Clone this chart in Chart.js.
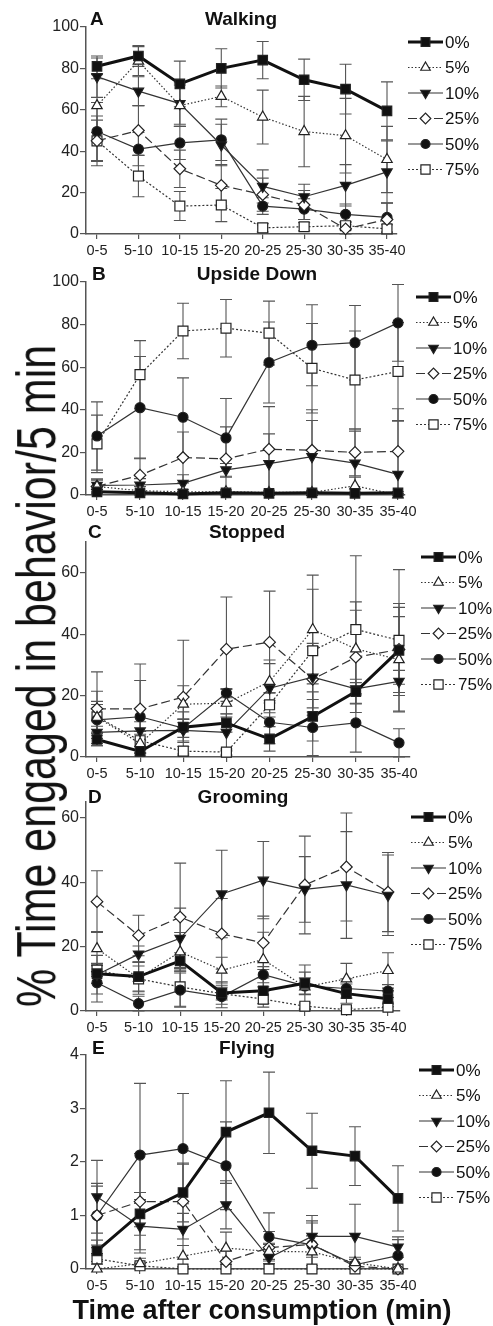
<!DOCTYPE html>
<html>
<head>
<meta charset="utf-8">
<script src="https://cdn.jsdelivr.net/npm/chart.js@4"></script>
<style>
  body { margin: 0; background: #fff; }
  #page { position: relative; width: 493px; height: 1326px; overflow: hidden; font-family: "Liberation Sans", Arial, sans-serif; color: #111; }
  canvas { position: absolute; left: 0; }
  .txt { position: absolute; white-space: nowrap; }
</style>
</head>
<body>
<div id="page"></div>
<script>
// ---- data ----
const categories = ['0-5', '5-10', '10-15', '15-20', '20-25', '25-30', '30-35', '35-40'];
const doses = ['0%', '5%', '10%', '25%', '50%', '75%'];

const walkingMean = [
  [81, 86, 72.5, 80, 84, 74.5, 70, 59.5],
  [62, 83.5, 62, 66.5, 56.5, 49.5, 47.5, 36],
  [76, 69, 63, 43, 23, 18, 23.5, 30],
  [45, 50, 31.5, 23.5, 19, 14, 2.5, 7],
  [49.5, 41, 44, 45.5, 13.5, 12, 9.5, 8],
  [45, 28, 13.5, 14, 3, 3.5, 4, 2.5]
];
const walkingErr = [
  [4, 5, 11, 9.5, 9, 10, 12, 14],
  [13, 7, 10, 5, 13, 17, 18, 16],
  [10, 7, 10, 10, 8, 6, 10, 15],
  [12, 12, 9, 10, 8, 7, 3, 8],
  [14, 8, 8, 10, 4, 5, 5, 7],
  [10, 10, 7, 8, 2, 2, 2, 2]
];

const upsideMean = [
  [1.5, 1, 0.5, 1, 0.8, 1, 0.8, 1],
  [4, 2, 1.5, 1.5, 1.2, 1.2, 4.3, 0],
  [4.5, 4.7, 5.5, 11.8, 14.7, 18, 15, 9.7],
  [4, 9.3, 17.6, 17, 21.5, 21, 20, 20.5],
  [27.7, 41, 36.5, 26.8, 62.2, 70.3, 71.5, 80.8],
  [24, 56.5, 77, 78.3, 76, 59.5, 54, 58]
];
const upsideErr = [
  [1, 0.5, 0.5, 0.5, 0.5, 0.5, 0.5, 0.5],
  [3, 2, 1, 1, 1, 1, 4, 0.5],
  [3, 3, 4, 3, 14, 17, 15, 25],
  [3.5, 8, 12, 15, 20, 19, 11, 20],
  [16, 24, 18.5, 18.5, 19, 19, 17.5, 18],
  [13.5, 16, 13, 13.5, 15, 21, 23, 23]
];

const stoppedMean = [
  [5.7, 1.8, 9.7, 11.1, 5.9, 13.2, 21.3, 34.7],
  [12.9, 4.4, 17.2, 17.5, 24.6, 41.5, 35.2, 31.7],
  [8, 8.5, 8.7, 8, 22.4, 26, 22.2, 24.6],
  [15.7, 15.7, 19.5, 35.1, 37.4, 25.3, 32.5, 35],
  [12.1, 13.1, 9.4, 20.8, 11.3, 9.6, 11.1, 4.6],
  [13.1, 5.3, 1.9, 1.6, 17, 34.6, 41.5, 38]
];
const stoppedErr = [
  [2, 1.5, 5, 3, 4, 8, 4, 11],
  [8.5, 3, 6, 4.5, 7, 17.7, 12.6, 17],
  [2, 3, 3.5, 6, 8, 10, 2, 3.6],
  [12, 14.6, 18.5, 17, 16.6, 11.7, 18, 15],
  [5, 11.8, 3, 1.5, 7, 9.1, 9.5, 4.6],
  [5, 3, 1.5, 1, 4, 20, 24, 23]
];

const groomingMean = [
  [11.6, 10.7, 15.6, 5.6, 6.3, 8.6, 5.4, 3.8],
  [19.4, 10.2, 18.4, 12.7, 16, 7.5, 10, 12.6],
  [11.3, 17.7, 22.6, 36.4, 40.7, 37.8, 39.2, 36],
  [34, 23.5, 29.2, 24, 21.2, 39.2, 44.8, 37],
  [8.8, 2.3, 6.5, 4.5, 11.3, 7.8, 7, 6.2],
  [12.7, 10, 7.5, 5.4, 3.7, 1.5, 0.4, 1.2]
];
const groomingErr = [
  [3, 4.5, 2.5, 3.5, 4, 3.5, 3, 2.5],
  [5.3, 5, 6, 4, 8.5, 6.8, 4.8, 5.5],
  [6, 2.5, 9.4, 13.6, 12, 10.2, 16.6, 12.5],
  [9.6, 6.3, 16.8, 11, 8.3, 15.2, 16.8, 12.3],
  [6, 2.3, 5.3, 3.5, 2.5, 2.5, 3, 2],
  [2, 4, 6, 2, 2.5, 1, 0.5, 1]
];

const flyingMean = [
  [0.34, 1.03, 1.43, 2.56, 2.92, 2.21, 2.11, 1.32],
  [0, 0.1, 0.24, 0.39, 0.33, 0.32, 0.12, 0],
  [1.35, 0.8, 0.74, 1.2, 0.21, 0.61, 0.61, 0.41],
  [1.0, 1.26, 1.26, 0.14, 0.4, 0.46, 0.05, 0],
  [1.0, 2.13, 2.25, 1.93, 0.6, 0.45, 0.08, 0.25],
  [0.19, 0.06, 0, 0, 0, 0, 0, 0]
];
const flyingErr = [
  [0.2, 0.4, 0.55, 0.96, 0.76, 0.7, 0.55, 0.61],
  [0, 0.1, 0.2, 0.3, 0.15, 0.3, 0.1, 0],
  [0.68, 0.5, 0.3, 0.45, 0.25, 0.39, 0.6, 0.19],
  [0.55, 0.9, 0.7, 0.2, 0.3, 0.4, 0.05, 0],
  [0.6, 1.34, 1.03, 0.82, 0.45, 0.45, 0.1, 0.3],
  [0.1, 0.05, 0, 0, 0, 0, 0, 0]
];

const yTicksWalking = [0, 20, 40, 60, 80, 100];
const yTicksUpside = [0, 20, 40, 60, 80, 100];
const yTicksStopped = [0, 20, 40, 60];
const yTicksGrooming = [0, 20, 40, 60];
const yTicksFlying = [0, 1, 2, 3, 4];
const yMaxes = [100, 100, 70, 65, 4];

const panelLetters = ['A', 'B', 'C', 'D', 'E'];
const panelTitles = ['Walking', 'Upside Down', 'Stopped', 'Grooming', 'Flying'];
const yTitle = '% Time engaged in behavior/5 min';
const xTitle = 'Time after consumption (min)';

// ---- styles / layout ----
const FONT = '"Liberation Sans", Arial, sans-serif';
const seriesStyle = [
  { pointStyle: 'rect', rotation: 0, filled: true, dash: [], width: 3, radius: 6.7, color: '#111' },
  { pointStyle: 'triangle', rotation: 0, filled: false, dash: [1.5, 2], width: 1.2, radius: 6, color: '#333' },
  { pointStyle: 'triangle', rotation: 180, filled: true, dash: [], width: 1.2, radius: 6, color: '#333' },
  { pointStyle: 'rectRot', rotation: 0, filled: false, dash: [9, 4], width: 1.2, radius: 5.8, color: '#333' },
  { pointStyle: 'circle', rotation: 0, filled: true, dash: [], width: 1.2, radius: 5, color: '#333' },
  { pointStyle: 'rect', rotation: 0, filled: false, dash: [2, 2], width: 1.2, radius: 7, color: '#333' }
];

const layout = [
  { top: 27, bottom: 234, right: 397, lastX: 387, titleX: 241, base: 25, letterX: 90 },
  { top: 282, bottom: 495, right: 405, lastX: 398, titleX: 257, base: 280, letterX: 92 },
  { top: 542, bottom: 757, right: 410, lastX: 399, titleX: 247, base: 538, letterX: 88 },
  { top: 802, bottom: 1011, right: 400, lastX: 388, titleX: 243, base: 803, letterX: 88 },
  { top: 1055, bottom: 1269, right: 408, lastX: 398, titleX: 247, base: 1054, letterX: 92 }
];
const panelData = [
  [walkingMean, walkingErr, yTicksWalking],
  [upsideMean, upsideErr, yTicksUpside],
  [stoppedMean, stoppedErr, yTicksStopped],
  [groomingMean, groomingErr, yTicksGrooming],
  [flyingMean, flyingErr, yTicksFlying]
];
const AXIS_LEFT = 86, FIRST_X = 97, PAD_TOP = 14, X_AXIS_H = 30;

const page = document.getElementById('page');

function addText(text, x, baseline, size, bold, align) {
  const d = document.createElement('div');
  d.className = 'txt';
  d.textContent = text;
  d.style.fontSize = size + 'px';
  d.style.lineHeight = size + 'px';
  d.style.fontWeight = bold ? 'bold' : 'normal';
  d.style.top = (baseline - 0.8465 * size) + 'px';
  d.style.left = x + 'px';
  if (align === 'center') d.style.transform = 'translateX(-50%)';
  page.appendChild(d);
  return d;
}

// error bars drawn through the y scale, behind the lines
const errorBars = {
  id: 'errorBars',
  beforeDatasetsDraw(chart) {
    const ctx = chart.ctx, ys = chart.scales.y, area = chart.chartArea;
    ctx.save();
    ctx.strokeStyle = '#555';
    ctx.lineWidth = 1.1;
    ctx.setLineDash([]);
    chart.data.datasets.forEach((ds, di) => {
      const meta = chart.getDatasetMeta(di);
      meta.data.forEach((pt, i) => {
        const v = ds.data[i].y, e = ds.errors[i];
        if (!e) return;
        const yTop = Math.max(ys.getPixelForValue(v + e), area.top);
        const yBot = Math.min(ys.getPixelForValue(Math.max(v - e, ys.min)), area.bottom);
        const x = pt.x;
        ctx.beginPath();
        ctx.moveTo(x, yTop); ctx.lineTo(x, yBot);
        ctx.moveTo(x - 6, yTop); ctx.lineTo(x + 6, yTop);
        ctx.moveTo(x - 6, yBot); ctx.lineTo(x + 6, yBot);
        ctx.stroke();
      });
    });
    ctx.restore();
  }
};

// legend: line sample + marker + label
const sideLegend = {
  id: 'sideLegend',
  afterDraw(chart) {
    const ctx = chart.ctx, area = chart.chartArea;
    const x0 = area.right + 11;
    ctx.save();
    chart.data.datasets.forEach((ds, i) => {
      const st = seriesStyle[i];
      const y = area.top + 15 + i * 25.5;
      ctx.strokeStyle = st.color;
      ctx.lineWidth = st.width;
      ctx.setLineDash(st.dash);
      ctx.beginPath();
      ctx.moveTo(x0, y); ctx.lineTo(x0 + 35, y);
      ctx.stroke();
      ctx.setLineDash([]);
      ctx.fillStyle = st.filled ? '#111' : '#fff';
      ctx.strokeStyle = '#222';
      ctx.lineWidth = 1.2;
      Chart.helpers.drawPoint(ctx, { pointStyle: st.pointStyle, rotation: st.rotation, radius: st.radius - 0.5, borderWidth: 1.2 }, x0 + 17.5, y);
      ctx.fillStyle = '#111';
      ctx.font = '17px ' + FONT;
      ctx.textBaseline = 'middle';
      ctx.textAlign = 'left';
      ctx.fillText(ds.label, x0 + 37, y + 1);
    });
    ctx.restore();
  }
};

layout.forEach((L, p) => {
  const [means, errs, yTicks] = panelData[p];
  const unit = (L.lastX - FIRST_X) / 7;
  const xMin = -(FIRST_X - AXIS_LEFT) / unit;
  const xMax = 7 + (L.right - L.lastX) / unit;

  const cv = document.createElement('canvas');
  const h = (L.bottom - L.top) + PAD_TOP + X_AXIS_H;
  cv.width = 493; cv.height = h;
  cv.style.top = (L.top - PAD_TOP) + 'px';
  cv.style.width = '493px'; cv.style.height = h + 'px';
  page.appendChild(cv);

  const datasets = means.map((row, s) => {
    const st = seriesStyle[s];
    return {
      label: doses[s],
      data: row.map((v, i) => ({ x: i, y: v })),
      errors: errs[s],
      borderColor: st.color,
      borderWidth: st.width,
      borderDash: st.dash,
      pointStyle: st.pointStyle,
      pointRotation: st.rotation,
      pointRadius: st.radius,
      pointBackgroundColor: st.filled ? '#111' : '#fff',
      pointBorderColor: '#222',
      pointBorderWidth: 1.2,
      tension: 0,
      clip: false
    };
  });

  new Chart(cv, {
    type: 'line',
    data: { datasets },
    options: {
      responsive: false,
      animation: false,
      devicePixelRatio: 1,
      layout: { padding: { left: 0, right: 493 - L.right, top: PAD_TOP, bottom: 0 } },
      plugins: { legend: { display: false }, tooltip: { enabled: false }, title: { display: false } },
      scales: {
        x: {
          type: 'linear',
          min: xMin, max: xMax,
          afterBuildTicks: s => { s.ticks = categories.map((c, i) => ({ value: i })); },
          afterFit: s => { s.height = X_AXIS_H; },
          ticks: { stepSize: 1, autoSkip: false, maxRotation: 0, padding: 3, color: '#222',
                   font: { family: FONT, size: 14.5 }, callback: v => categories[v] },
          grid: { drawOnChartArea: false, drawTicks: true, tickLength: 5, color: '#555', lineWidth: 1.2 },
          border: { display: true, color: '#555', width: 1.5 }
        },
        y: {
          type: 'linear',
          min: 0, max: yMaxes[p],
          afterBuildTicks: s => { s.ticks = yTicks.map(v => ({ value: v })); },
          afterFit: s => { s.width = AXIS_LEFT; },
          ticks: { padding: 1, color: '#222', font: { family: FONT, size: 16 } },
          grid: { drawOnChartArea: false, drawTicks: true, tickLength: 6, color: '#555', lineWidth: 1.2 },
          border: { display: true, color: '#555', width: 1.5 }
        }
      }
    },
    plugins: [errorBars, sideLegend]
  });

  addText(panelLetters[p], L.letterX, L.base, 19, true, 'left');
  addText(panelTitles[p], L.titleX, L.base, 19, true, 'center');
});

// axis titles
const yt = document.createElement('div');
yt.className = 'txt';
yt.textContent = yTitle;
yt.style.fontSize = '43px';
yt.style.lineHeight = '43px';
yt.style.left = '35.6px';
yt.style.top = '676px';
yt.style.transform = 'translate(-50%, -50%) rotate(-90deg) scale(1, 1.3)';
page.appendChild(yt);

addText(xTitle, 262, 1320, 27, true, 'center');
</script>
</body>
</html>
